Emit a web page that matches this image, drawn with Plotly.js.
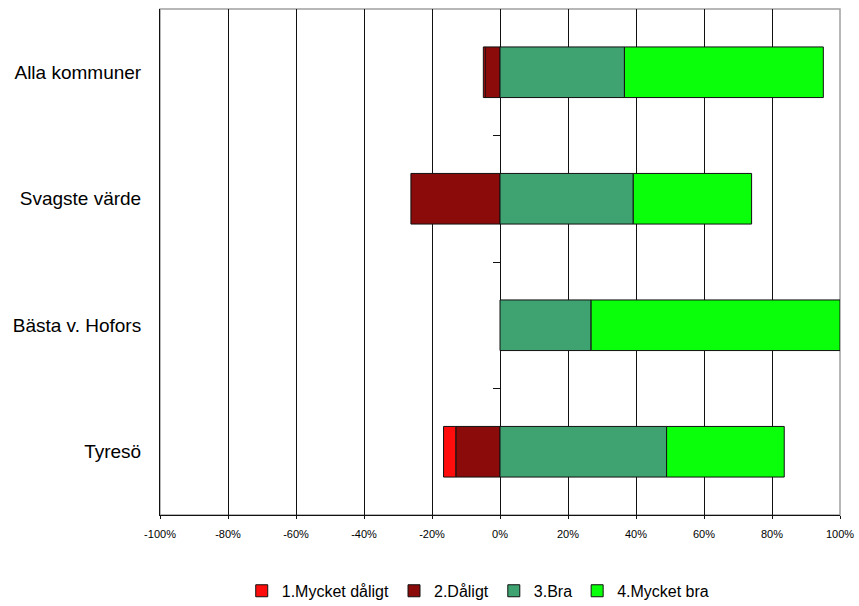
<!DOCTYPE html>
<html>
<head>
<meta charset="utf-8">
<script src="https://cdn.plot.ly/plotly-3.0.1.min.js"></script>
<style>html,body{margin:0;padding:0;background:#fff;}#chart{width:859px;height:606px;}</style>
</head>
<body>
<div id="chart"></div>
<script>
const categories = ["Alla kommuner", "Svagste värde", "Bästa v. Hofors", "Tyresö"];
const seriesNames = ["1.Mycket dåligt", "2.Dåligt", "3.Bra", "4.Mycket bra"];
const mycketDaligt = [-0.5, null, null, -3.6];
const daligt = [-4.4, -26.2, null, -13.0];
const bra = [36.6, 39.2, 26.8, 49.0];
const mycketBra = [58.5, 34.8, 73.2, 34.6];
const xTickVals = [-100, -80, -60, -40, -20, 0, 20, 40, 60, 80, 100];
const xTickText = ["-100%", "-80%", "-60%", "-40%", "-20%", "0%", "20%", "40%", "60%", "80%", "100%"];
const catBoundaries = [0.5, 1.5, 2.5];

const colors = ["#ff0d0d", "#8b0a0a", "#3ea370", "#0aff0a"];
function mk(name, vals, color, rank) {
  return {
    type: "bar", orientation: "h", name: name, x: vals, y: categories,
    marker: {color: color, line: {color: "#111", width: 1}},
    legendrank: rank, hoverinfo: "x+name"
  };
}
const traces = [
  mk(seriesNames[1], daligt, colors[1], 2),
  mk(seriesNames[0], mycketDaligt, colors[0], 1),
  mk(seriesNames[2], bra, colors[2], 3),
  mk(seriesNames[3], mycketBra, colors[3], 4),
  {type: "scatter", x: [], y: [], yaxis: "y2", showlegend: false, hoverinfo: "skip"}
];

const layout = {
  width: 859, height: 606,
  margin: {l: 160, r: 19, t: 9, b: 91, autoexpand: false},
  paper_bgcolor: "#fff", plot_bgcolor: "#fff",
  barmode: "relative", bargap: 0.6,
  font: {family: "Liberation Sans, Arial, sans-serif", color: "#000"},
  xaxis: {
    range: [-100, 100], tickvals: xTickVals, ticktext: xTickText,
    showgrid: true, gridcolor: "#111", gridwidth: 1,
    zeroline: true, zerolinecolor: "#111", zerolinewidth: 1,
    showline: true, linecolor: "#111", linewidth: 1,
    ticks: "outside", ticklen: 3, tickcolor: "#111",
    tickfont: {size: 11, color: "#000"}, ticklabelstandoff: 6, fixedrange: true
  },
  yaxis: {
    type: "category", categoryorder: "array", categoryarray: categories,
    range: [3.5, -0.5], showgrid: false, zeroline: false,
    showline: true, linecolor: "#111", linewidth: 1,
    ticks: "", tickfont: {size: 19, color: "#000"}, ticklabelstandoff: 14, fixedrange: true
  },
  yaxis2: {
    overlaying: "y", anchor: "free", position: 0.5, side: "left",
    range: [3.5, -0.5], tickvals: catBoundaries, showticklabels: false,
    ticks: "outside", ticklen: 7, tickcolor: "#111", showline: false,
    showgrid: false, zeroline: false, fixedrange: true
  },
  shapes: [{type: "rect", xref: "paper", yref: "paper", x0: 0, x1: 1, y0: 0, y1: 1,
            line: {color: "#a0a0a0", width: 1.5}, layer: "below"}],
  legend: {
    orientation: "h", x: 0.468, xanchor: "center",
    yref: "container", y: 0.025, yanchor: "middle",
    font: {size: 16, color: "#000"}, itemwidth: 30, traceorder: "normal"
  },
  showlegend: true
};

Plotly.newPlot("chart", traces, layout, {displayModeBar: false, staticPlot: true});
</script>
</body>
</html>
